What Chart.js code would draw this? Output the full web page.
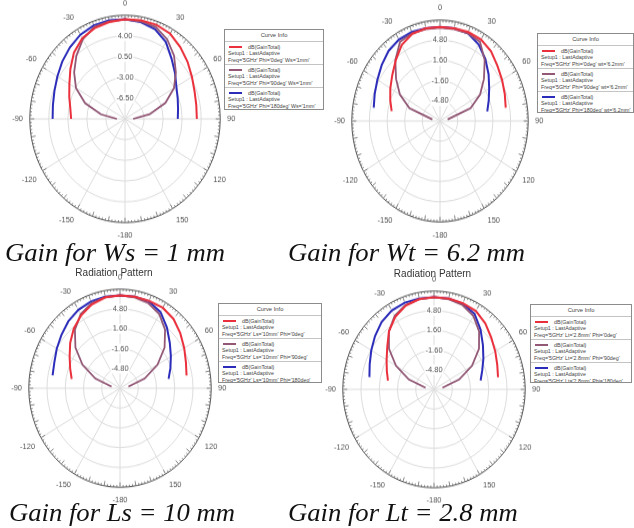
<!DOCTYPE html>
<html>
<head>
<meta charset="utf-8">
<script src="https://cdn.jsdelivr.net/npm/chart.js@4.4.0/dist/chart.umd.min.js"></script>
<style>
  body { margin: 0; width: 634px; height: 528px; overflow: hidden; position: relative; background: #fff;
         font-family: "Liberation Sans", Arial, sans-serif; }
  .panel { position: absolute; transform-origin: 0 0; }
  .legend { position: absolute; border: 1px solid #8c8c8c; background: #fff; box-sizing: border-box;
            font-size: 5.3px; line-height: 6.4px; color: #444; white-space: nowrap; overflow: hidden; }
  .legend .hd { height: 11px; line-height: 11px; text-align: center; border-bottom: 1px solid #c4c4c4; font-size: 5.8px; }
  .legend .sec { height: 23px; box-sizing: border-box; border-bottom: 1px solid #c4c4c4; padding: 2px 0 0 3px; }
  .legend .sec:last-child { border-bottom: none; }
  .legend .sw { display: inline-block; width: 13px; height: 2px; vertical-align: middle; margin: 0 6px 1px 1px; }
  .cap { position: absolute; font-family: "Liberation Serif", "Times New Roman", serif; font-style: italic;
         font-size: 26px; line-height: 26px; color: #111; white-space: nowrap;
         transform: scaleX(1.025); transform-origin: 0 0; }
  .ttl { position: absolute; font-size: 10px; color: #333; white-space: nowrap; transform: translateX(-50%); }
</style>
</head>
<body>
<script>
// theta in degrees, one gain value (dB) per angle
const theta = [-90, -80, -70, -60, -50, -40, -30, -20, -10, 0, 10, 20, 30, 40, 50, 60, 70, 80, 90];
// angle categories around the radar, clockwise from the top
const angleLabels = [0, 10, 20, 30, 40, 50, 60, 70, 80, 90, 100, 110, 120, 130, 140, 150, 160, 170,
                     -180, -170, -160, -150, -140, -130, -120, -110, -100, -90, -80, -70, -60, -50, -40, -30, -20, -10];

// Ws = 1 mm
const wsPhi0   = [-0.1, 0.2, 0.9, 1.8, 3.1, 4.6, 5.7, 6.3, 6.6, 6.8, 6.9, 6.9, 6.6, 5.8, 5.0, 4.2, 3.6, 3.3, 3.2];
const wsPhi90  = [-8.5, -5.5, -2.2, 0.4, 2.2, 3.9, 5.5, 6.5, 6.7, 6.8, 6.7, 6.5, 5.5, 4.0, 2.2, 0.4, -2.1, -5.4, -8.5];
const wsPhi180 = [3.3, 3.45, 3.8, 4.35, 5.05, 5.75, 6.4, 6.8, 6.9, 6.8, 6.6, 6.1, 5.0, 3.3, 2.0, 0.9, 0.3, -0.1, -0.3];
// Wt = 6.2 mm
const wtPhi0   = [null, 0.9, 1.6, 2.4, 3.3, 4.5, 5.9, 6.7, 6.9, 6.9, 6.9, 7.0, 6.9, 6.4, 5.6, 5.0, 4.5, 4.1, null];
const wtPhi90  = [null, -6.6, -2.1, 0.4, 2.4, 4.6, 6.5, 6.8, 6.8, 6.8, 6.8, 6.8, 6.5, 4.6, 2.4, 0.4, -2.1, -6.6, null];
const wtPhi180 = [null, 4.2, 4.6, 5.1, 5.8, 6.5, 6.9, 7.0, 6.9, 6.9, 6.9, 6.8, 6.0, 4.8, 3.5, 2.3, 1.4, 0.7, null];
// Ls = 10 mm
const lsPhi0   = [null, 0.6, 1.3, 2.2, 3.4, 4.6, 5.6, 6.4, 6.9, 7.0, 7.0, 7.0, 7.0, 6.6, 5.8, 5.0, 4.3, 3.85, null];
const lsPhi90  = [null, -6.5, -3.4, -0.4, 2.2, 4.3, 5.8, 6.6, 6.9, 7.0, 6.9, 6.6, 5.8, 4.3, 2.2, -0.4, -3.4, -6.5, null];
const lsPhi180 = [null, 4.0, 4.25, 4.8, 5.4, 6.1, 6.6, 6.9, 7.0, 7.0, 7.0, 6.9, 6.2, 4.8, 3.4, 2.3, 1.4, 0.65, null];
// Lt = 2.8 mm
const ltPhi0   = [null, 0.2, 0.8, 1.6, 2.7, 4.3, 5.6, 6.5, 6.9, 7.0, 7.0, 6.9, 6.7, 6.0, 5.1, 4.4, 3.8, 3.4, null];
const ltPhi90  = [null, -6.5, -3.3, -0.3, 2.3, 4.3, 5.8, 6.6, 6.9, 7.0, 6.9, 6.6, 5.8, 4.3, 2.3, -0.3, -3.3, -6.5, null];
const ltPhi180 = [null, 3.5, 4.0, 4.7, 5.5, 6.3, 6.8, 7.0, 7.0, 7.0, 7.0, 6.8, 6.2, 4.7, 3.2, 2.0, 1.0, 0.3, null];

const wsFreq = ["Freq='5GHz' Phi='0deg' Ws='1mm'", "Freq='5GHz' Phi='90deg' Ws='1mm'", "Freq='5GHz' Phi='180deg' Ws='1mm'"];
const wtFreq = ["Freq='5GHz' Phi='0deg' wt='6.2mm'", "Freq='5GHz' Phi='90deg' wt='6.2mm'", "Freq='5GHz' Phi='180deg' wt='6.2mm'"];
const lsFreq = ["Freq='5GHz' Ls='10mm' Phi='0deg'", "Freq='5GHz' Ls='10mm' Phi='90deg'", "Freq='5GHz' Ls='10mm' Phi='180deg'"];
const ltFreq = ["Freq='5GHz' Lt='2.8mm' Phi='0deg'", "Freq='5GHz' Lt='2.8mm' Phi='90deg'", "Freq='5GHz' Lt='2.8mm' Phi='180deg'"];

const colors = ['rgb(234,48,60)', 'rgb(146,88,118)', 'rgb(44,44,186)'];

Chart.defaults.font.family = "'Liberation Sans', Arial, sans-serif";

const labelSize = 7.5;
const labelPad = 2;

// small tick marks around the outer ring
const ringTicks = {
  id: 'ringTicks',
  beforeDatasetsDraw(chart) {
    const s = chart.scales.r, c = chart.ctx;
    c.save();
    c.strokeStyle = '#6a6a6a';
    c.lineWidth = 0.8;
    for (let d = 0; d < 360; d += 2) {
      const a = d * Math.PI / 180;
      const r0 = s.drawingArea, r1 = r0 - (d % 10 === 0 ? 4.5 : 2);
      c.beginPath();
      c.moveTo(s.xCenter + r0 * Math.sin(a), s.yCenter - r0 * Math.cos(a));
      c.lineTo(s.xCenter + r1 * Math.sin(a), s.yCenter - r1 * Math.cos(a));
      c.stroke();
    }
    c.restore();
  }
};

function toRadar(values) {
  return angleLabels.map(a => {
    const i = theta.indexOf(a);
    return i < 0 ? null : values[i];
  });
}

const panels = [
  { cx: 124.7, cy: 118.8, rh: 95.3, sy: 1.089, min: -10, max: 7.5, step: 3.5,
    series: [wsPhi0, wsPhi90, wsPhi180], freq: wsFreq, leg: [224, 29, 100, 81],
    cap: ['Gain for Ws = 1 mm', 5, 240] },
  { cx: 440, cy: 120.5, rh: 88.3, sy: 1.144, min: -8, max: 8, step: 3.2,
    series: [wtPhi0, wtPhi90, wtPhi180], freq: wtFreq, leg: [537, 33, 97, 80],
    cap: ['Gain for Wt = 6.2 mm', 288, 240] },
  { cx: 119.5, cy: 388.3, rh: 91.2, sy: 1.086, min: -8, max: 8, step: 3.2,
    series: [lsPhi0, lsPhi90, lsPhi180], freq: lsFreq, leg: [218, 303, 104, 80],
    cap: ['Gain for Ls = 10 mm', 9, 500], title: [114, 267] },
  { cx: 433.8, cy: 389, rh: 91.2, sy: 1.078, min: -8, max: 8, step: 3.2,
    series: [ltPhi0, ltPhi90, ltPhi180], freq: ltFreq, leg: [530, 304, 102, 79],
    cap: ['Gain for Lt = 2.8 mm', 288, 500], title: [432.5, 268] }
];

panels.forEach(p => {
  const k = Math.round(p.rh + 10.7);
  const H = 2 * k + 10;
  const W = H + 40;
  const div = document.createElement('div');
  div.className = 'panel';
  div.style.width = W + 'px';
  div.style.height = H + 'px';
  div.style.left = (p.cx - Math.floor(W / 2)) + 'px';
  div.style.top = (p.cy - p.sy * Math.floor(H / 2)) + 'px';
  div.style.transform = 'scaleY(' + p.sy + ')';
  const cv = document.createElement('canvas');
  div.appendChild(cv);
  document.body.appendChild(div);

  new Chart(cv, {
    type: 'radar',
    data: {
      labels: angleLabels,
      datasets: p.series.map((s, j) => ({
        label: 'dB(GainTotal)',
        data: toRadar(s),
        borderColor: colors[j],
        borderWidth: j === 1 ? 1.8 : 2,
        fill: false
      }))
    },
    options: {
      responsive: true,
      maintainAspectRatio: false,
      animation: false,
      plugins: { legend: { display: false }, tooltip: { enabled: false } },
      elements: { point: { radius: 0 }, line: { tension: 0 } },
      scales: {
        r: {
          min: p.min,
          max: p.max,
          ticks: {
            stepSize: p.step,
            font: { size: labelSize },
            color: '#555',
            backdropColor: '#fff',
            backdropPadding: 1,
            showLabelBackdrop: c => c.index > 0 && c.index < 5,
            callback: (v, i, t) => (i === 0 || i === t.length - 1) ? '' : v.toFixed(2)
          },
          grid: {
            circular: true,
            color: c => (c.tick && c.tick.value === p.max) ? '#555' : '#dcdcdc',
            lineWidth: 1
          },
          angleLines: {
            color: '#dcdcdc',
            lineWidth: c => c.label === '' ? 0 : 1
          },
          pointLabels: {
            font: { size: labelSize },
            color: '#555',
            padding: labelPad,
            callback: l => (l % 30 === 0 ? String(l) : '')
          }
        }
      }
    },
    plugins: [ringTicks]
  });

  // legend box
  const lg = document.createElement('div');
  lg.className = 'legend';
  lg.style.left = p.leg[0] + 'px';
  lg.style.top = p.leg[1] + 'px';
  lg.style.width = p.leg[2] + 'px';
  lg.style.height = p.leg[3] + 'px';
  let html = '<div class="hd">Curve Info</div>';
  p.freq.forEach((f, j) => {
    html += '<div class="sec"><span class="sw" style="background:' + colors[j] + '"></span>dB(GainTotal)<br>' +
            'Setup1 : LastAdaptive<br>' + f + '</div>';
  });
  lg.innerHTML = html;
  document.body.appendChild(lg);

  const cap = document.createElement('div');
  cap.className = 'cap';
  cap.textContent = p.cap[0];
  cap.style.left = p.cap[1] + 'px';
  cap.style.top = p.cap[2] + 'px';
  document.body.appendChild(cap);

  if (p.title) {
    const t = document.createElement('div');
    t.className = 'ttl';
    t.textContent = 'Radiation Pattern';
    t.style.left = p.title[0] + 'px';
    t.style.top = p.title[1] + 'px';
    document.body.appendChild(t);
  }
});
</script>
</body>
</html>
